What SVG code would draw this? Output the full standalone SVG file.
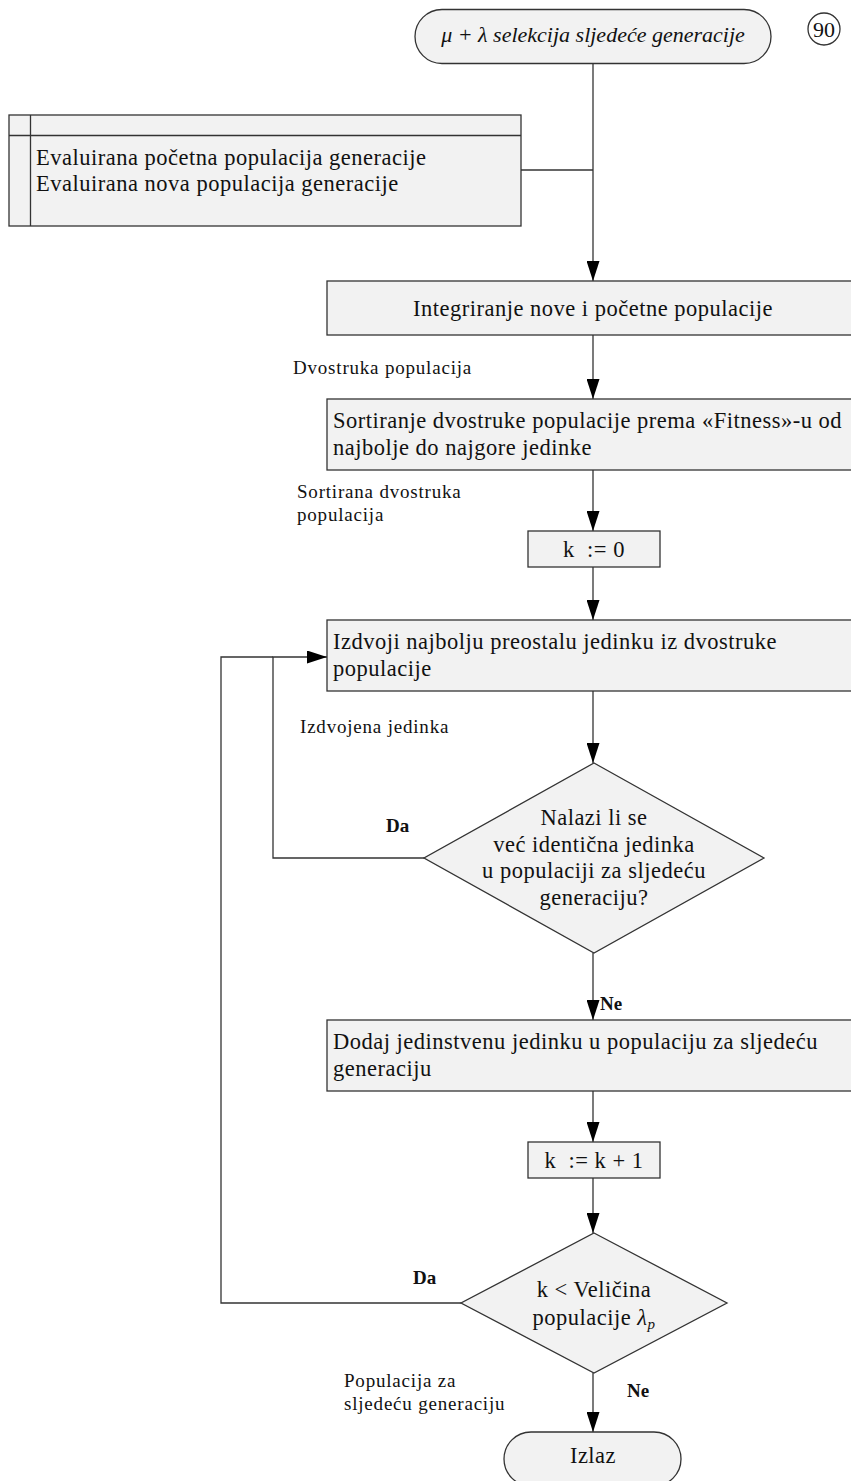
<svg xmlns="http://www.w3.org/2000/svg" width="851" height="1481" viewBox="0 0 851 1481">
<style>
.shape{fill:#f2f2f2;stroke:#333;stroke-width:1.3}
.line{fill:none;stroke:#333;stroke-width:1.3}
text{font-family:"Liberation Serif","Times New Roman",serif;fill:#111}
.t{font-size:22.5px;letter-spacing:0.5px}
.lbl{font-size:19px;letter-spacing:0.8px}
.b{font-size:19px;font-weight:bold}
.c{text-anchor:middle}
</style>
<defs>
<marker id="ah" markerUnits="userSpaceOnUse" markerWidth="20" markerHeight="13" refX="20" refY="6.5" orient="auto">
<path d="M0,0 L20,6.5 L0,13 z" fill="#000"/>
</marker>
</defs>
<rect width="851" height="1481" fill="#fff"/>

<g id="connectors">
<path class="line" d="M593,63 V281" marker-end="url(#ah)"/>
<path class="line" d="M521,170 H593"/>
<path class="line" d="M593,335 V399" marker-end="url(#ah)"/>
<path class="line" d="M593,470 V531" marker-end="url(#ah)"/>
<path class="line" d="M593,567 V620" marker-end="url(#ah)"/>
<path class="line" d="M593,691 V763" marker-end="url(#ah)"/>
<path class="line" d="M424,858 H273 V657 H327" marker-end="url(#ah)"/>
<path class="line" d="M593,953 V1020" marker-end="url(#ah)"/>
<path class="line" d="M593,1091 V1142" marker-end="url(#ah)"/>
<path class="line" d="M593,1178 V1233" marker-end="url(#ah)"/>
<path class="line" d="M461,1303 H221 V657 H273"/>
<path class="line" d="M593,1373 V1432" marker-end="url(#ah)"/>
</g>

<g id="start">
<rect class="shape" x="415" y="9.5" width="356" height="54" rx="27" ry="27"/>
<text x="593" y="42" class="c" style="font-size:22px;font-style:italic">μ + λ selekcija sljedeće generacije</text>
</g>

<g id="page-ref">
<circle cx="824" cy="29" r="16" fill="#fff" stroke="#333" stroke-width="1.3"/>
<text x="824" y="37" class="c" style="font-size:22px">90</text>
</g>

<g id="datastore">
<rect class="shape" x="9" y="115" width="512" height="111"/>
<path class="line" d="M30.5,115 V226 M9,135.5 H521"/>
<text x="36" y="165" class="t">Evaluirana početna populacija generacije</text>
<text x="36" y="191" class="t">Evaluirana nova populacija generacije</text>
</g>

<g id="integrate">
<rect class="shape" x="327" y="281" width="534" height="54"/>
<text x="593" y="316" class="t c">Integriranje nove i početne populacije</text>
</g>

<g id="lbl-dvostruka">
<text x="293" y="374" class="lbl">Dvostruka populacija</text>
</g>

<g id="sort">
<rect class="shape" x="327" y="399" width="534" height="71"/>
<text x="333" y="428" class="t">Sortiranje dvostruke populacije prema «Fitness»-u od</text>
<text x="333" y="455" class="t">najbolje do najgore jedinke</text>
</g>

<g id="lbl-sortirana">
<text x="297" y="498" class="lbl">Sortirana dvostruka</text>
<text x="297" y="521" class="lbl">populacija</text>
</g>

<g id="k0">
<rect class="shape" x="528" y="531" width="132" height="36"/>
<text x="594" y="557" class="t c" xml:space="preserve">k  := 0</text>
</g>

<g id="extract">
<rect class="shape" x="327" y="620" width="534" height="71"/>
<text x="333" y="649" class="t">Izdvoji najbolju preostalu jedinku iz dvostruke</text>
<text x="333" y="676" class="t">populacije</text>
</g>

<g id="lbl-izdvojena">
<text x="300" y="733" class="lbl">Izdvojena jedinka</text>
</g>

<g id="decision1">
<polygon class="shape" points="594,763 764,858 594,953 424,858"/>
<text x="594" y="825" class="t c">Nalazi li se</text>
<text x="594" y="852" class="t c">već identična jedinka</text>
<text x="594" y="878" class="t c">u populaciji za sljedeću</text>
<text x="594" y="905" class="t c">generaciju?</text>
</g>
<g id="lbl-da1"><text x="386" y="832" class="b">Da</text></g>
<g id="lbl-ne1"><text x="600" y="1010" class="b">Ne</text></g>

<g id="add">
<rect class="shape" x="327" y="1020" width="534" height="71"/>
<text x="333" y="1049" class="t">Dodaj jedinstvenu jedinku u populaciju za sljedeću</text>
<text x="333" y="1076" class="t">generaciju</text>
</g>

<g id="kinc">
<rect class="shape" x="528" y="1142" width="132" height="36"/>
<text x="594" y="1168" class="t c" xml:space="preserve">k  := k + 1</text>
</g>

<g id="decision2">
<polygon class="shape" points="594,1233 727,1303 594,1373 461,1303"/>
<text x="594" y="1297" class="t c">k &lt; Veličina</text>
<text x="594" y="1325" class="t c">populacije  <tspan font-style="italic">λ</tspan><tspan font-style="italic" font-size="15" dy="4">p</tspan></text>
</g>
<g id="lbl-da2"><text x="413" y="1284" class="b">Da</text></g>
<g id="lbl-ne2"><text x="627" y="1397" class="b">Ne</text></g>

<g id="lbl-populacija">
<text x="344" y="1387" class="lbl">Populacija za</text>
<text x="344" y="1410" class="lbl">sljedeću generaciju</text>
</g>

<g id="end">
<rect class="shape" x="504" y="1432" width="177" height="54" rx="27" ry="27"/>
<text x="593" y="1463" class="t c">Izlaz</text>
</g>
</svg>
